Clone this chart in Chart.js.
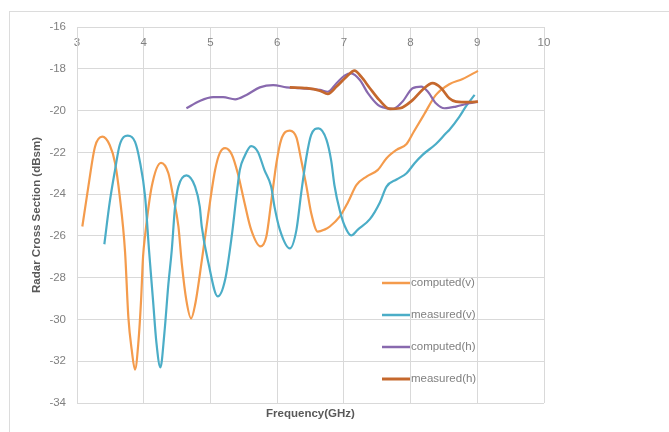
<!DOCTYPE html>
<html><head><meta charset="utf-8">
<script src="https://cdn.jsdelivr.net/npm/chart.js@4.4.1/dist/chart.umd.min.js"></script>
<style>
html,body{margin:0;padding:0;background:#fff;}
#wrap{position:relative;width:669px;height:432px;overflow:hidden;background:#fff;}
#frame{position:absolute;left:9px;top:11px;width:700px;height:500px;border:1px solid #dcdcdc;}
#c{position:absolute;left:0;top:0;}
</style></head><body>
<div id="wrap"><div id="frame"></div><canvas id="c" width="669" height="432"></canvas></div>
<script>
// ---- data ----
const seriesLabels = ['computed(v)', 'measured(v)', 'computed(h)', 'measured(h)'];

const compV_f = [3.08,3.17,3.27,3.38,3.49,3.57,3.64,3.72,3.77,3.82,3.87,3.92,3.96,3.99,4.02,4.12,4.26,4.37,4.44,4.52,4.57,4.64,4.71,4.77,4.87,4.97,5.07,5.14,5.22,5.32,5.41,5.51,5.61,5.75,5.84,5.91,5.99,6.06,6.19,6.29,6.36,6.44,6.51,6.61,6.71,6.79,6.94,7.06,7.19,7.34,7.51,7.64,7.79,7.94,8.05,8.2,8.38,8.58,8.78,9.01];
const compV_v = [-25.55,-23.64,-21.73,-21.25,-21.65,-22.5,-24.1,-26.75,-29.9,-31.45,-32.4,-31.1,-29.1,-27.0,-26.0,-23.64,-22.5,-23.0,-24.1,-25.55,-27.3,-29.1,-29.95,-29.3,-27.2,-24.9,-22.85,-22.04,-21.8,-22.1,-23.0,-24.4,-25.7,-26.5,-26.0,-24.4,-22.5,-21.4,-20.96,-21.3,-22.36,-23.64,-24.9,-25.8,-25.7,-25.55,-25.07,-24.4,-23.56,-23.16,-22.84,-22.28,-21.88,-21.6,-21.0,-20.2,-19.25,-18.74,-18.49,-18.1];

const measV_f = [3.41,3.49,3.57,3.64,3.76,3.87,3.94,4.02,4.08,4.14,4.19,4.25,4.31,4.37,4.42,4.47,4.52,4.64,4.77,4.84,4.87,4.97,5.11,5.22,5.32,5.39,5.44,5.51,5.61,5.71,5.81,5.91,5.96,6.04,6.19,6.29,6.36,6.44,6.51,6.62,6.74,6.81,6.86,6.94,7.01,7.11,7.21,7.39,7.54,7.64,7.79,7.94,8.06,8.18,8.38,8.53,8.58,8.73,8.83,8.96];
const measV_v = [-26.4,-24.4,-22.85,-21.65,-21.2,-21.5,-22.4,-24.1,-26.7,-29.1,-31.1,-32.3,-30.65,-28.3,-26.7,-24.6,-23.64,-23.1,-23.64,-24.6,-25.55,-27.3,-28.9,-28.1,-26.0,-24.1,-22.85,-22.2,-21.7,-21.97,-22.85,-23.64,-24.6,-25.7,-26.6,-25.7,-23.96,-22.2,-21.17,-20.85,-21.4,-22.4,-23.6,-24.8,-25.5,-25.98,-25.7,-25.2,-24.4,-23.64,-23.3,-23.0,-22.52,-22.12,-21.6,-21.09,-20.93,-20.3,-19.8,-19.25];

const compH_f = [4.64,4.84,5.04,5.19,5.37,5.54,5.74,5.94,6.14,6.34,6.64,6.76,6.89,7.01,7.11,7.24,7.36,7.51,7.59,7.74,7.88,8.03,8.16,8.26,8.38,8.51,8.68,8.88,9.01];
const compH_v = [-19.89,-19.54,-19.36,-19.36,-19.46,-19.25,-18.89,-18.78,-18.89,-18.93,-19.01,-19.1,-18.69,-18.33,-18.22,-18.54,-19.17,-19.73,-19.85,-19.92,-19.57,-18.93,-18.85,-19.1,-19.65,-19.89,-19.81,-19.65,-19.57];

const measH_f = [6.19,6.44,6.64,6.76,6.89,7.04,7.16,7.26,7.39,7.53,7.69,7.84,8.03,8.18,8.33,8.46,8.58,8.68,8.88,9.01];
const measH_v = [-18.89,-18.93,-19.05,-19.2,-18.85,-18.38,-18.09,-18.38,-18.93,-19.49,-19.92,-19.89,-19.5,-19.0,-18.69,-18.93,-19.41,-19.57,-19.6,-19.57];

const xTicks = [3,4,5,6,7,8,9,10];
const yTicks = [-16,-18,-20,-22,-24,-26,-28,-30,-32,-34];
const xTitle = 'Frequency(GHz)';
const yTitle = 'Radar Cross Section (dBsm)';

// ---- styles ----
const colors = ['#F49B4C', '#4BADC7', '#8869AE', '#C5682D'];
const widths = [2.2, 2.2, 2.2, 2.7];
const gridColor = '#d9d9d9';
const tickColor = '#808080';
const titleColor = '#595959';
const baseFont = "'Liberation Sans', Arial, sans-serif";

function pts(fs, vs){ return fs.map((f,i)=>({x:f, y:vs[i]})); }
const pairs = [[compV_f,compV_v],[measV_f,measV_v],[compH_f,compH_v],[measH_f,measH_v]];

const datasets = pairs.map((p,i)=>({
  label: seriesLabels[i],
  data: pts(p[0], p[1]),
  borderColor: colors[i],
  backgroundColor: colors[i],
  borderWidth: widths[i],
  showLine: true,
  pointRadius: 0,
  pointHoverRadius: 0,
  cubicInterpolationMode: 'monotone',
  order: 4 - i,
  xAxisID: 'x',
  yAxisID: 'y'
}));

const insideLegend = {
  id: 'insideLegend',
  afterDraw(chart){
    const ctx = chart.ctx;
    ctx.save();
    ctx.font = "11.5px " + baseFont;
    ctx.textBaseline = 'middle';
    ctx.textAlign = 'left';
    chart.data.datasets.forEach((ds, i) => {
      const y = 283 + i * 32;
      ctx.strokeStyle = ds.borderColor;
      ctx.lineWidth = ds.borderWidth + 0.3;
      ctx.beginPath();
      ctx.moveTo(382, y);
      ctx.lineTo(410, y);
      ctx.stroke();
      ctx.fillStyle = tickColor;
      ctx.fillText(ds.label, 411, y);
    });
    ctx.restore();
  }
};

new Chart(document.getElementById('c'), {
  type: 'scatter',
  data: { datasets },
  options: {
    responsive: false,
    animation: false,
    events: [],
    layout: { padding: { top: 27, left: 0, right: 125, bottom: 0 } },
    plugins: { legend: { display: false }, tooltip: { enabled: false } },
    scales: {
      x: {
        type: 'linear', position: 'top', min: 3, max: 10,
        afterBuildTicks: s => { s.ticks = xTicks.map(v => ({value: v})); },
        afterFit: s => { s.height = 0; },
        ticks: { color: tickColor, font: { family: baseFont, size: 11.5 }, mirror: true, padding: 9, maxRotation: 0, autoSkip: false },
        grid: { color: gridColor, lineWidth: 1, drawTicks: false },
        border: { color: gridColor }
      },
      x2: {
        type: 'linear', position: 'bottom', min: 3, max: 10,
        afterFit: s => { s.height = 29; },
        ticks: { display: false },
        grid: { display: false, drawTicks: false },
        border: { display: false },
        title: { display: true, text: xTitle, color: titleColor, font: { family: baseFont, size: 11.5, weight: 'bold' }, padding: { top: 0, bottom: 11 } }
      },
      y: {
        type: 'linear', position: 'left', min: -34, max: -16,
        afterBuildTicks: s => { s.ticks = yTicks.map(v => ({value: v})); },
        afterFit: s => { s.width = 77; },
        ticks: { color: tickColor, font: { family: baseFont, size: 11.5 }, padding: 11, autoSkip: false },
        grid: { color: gridColor, lineWidth: 1, drawTicks: false },
        border: { color: gridColor },
        title: { display: true, text: yTitle, color: titleColor, font: { family: baseFont, size: 11.5, weight: 'bold' }, padding: { top: 30, bottom: 0 } }
      }
    }
  },
  plugins: [insideLegend]
});
</script>
</body></html>
